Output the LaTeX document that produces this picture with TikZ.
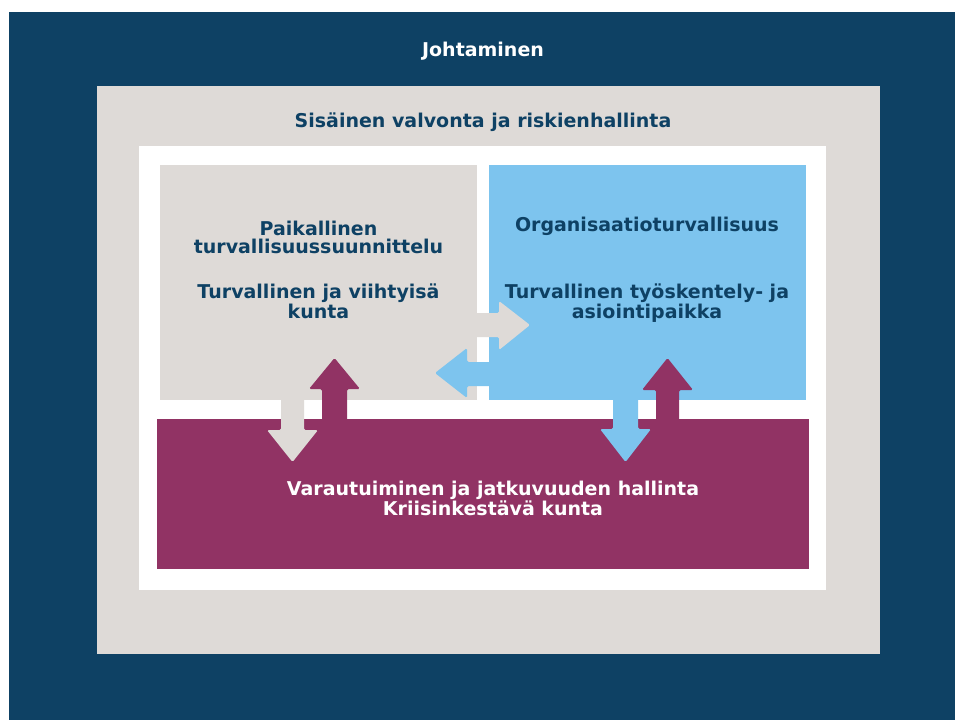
\documentclass[tikz,border=0pt]{standalone}
\usepackage{fontspec}
\setmainfont{DejaVu Sans}
\definecolor{navy}{RGB}{14,65,100}
\definecolor{warmgray}{RGB}{222,218,215}
\definecolor{skyblue}{RGB}{125,196,238}
\definecolor{plum}{RGB}{145,51,100}
\tikzset{
  box/.style={draw=none, inner sep=0pt, outer sep=0pt},
  lbl/.style={inner sep=0pt, anchor=base, font=\fontsize{19}{21}\selectfont\bfseries, text=navy},
  wlbl/.style={lbl, text=white},
  arrowshape/.style={rounded corners=1.5pt, draw=none}
}
\begin{document}
\begin{tikzpicture}[x=1pt, y=-1pt]
\useasboundingbox (0,0) rectangle (955,720);
\fill[white] (0,0) rectangle (955,720);
% frames
\fill[navy] (9,12) rectangle (955,720);
\node[box, fill=warmgray, minimum width=783pt, minimum height=568pt, anchor=north west] (ctrl) at (97,86) {};
\node[box, fill=white, minimum width=687pt, minimum height=444pt, anchor=north west] (inner) at (139,146) {};
\node[box, fill=warmgray, minimum width=317pt, minimum height=235pt, anchor=north west] (local) at (160,165) {};
\node[box, fill=skyblue, minimum width=317pt, minimum height=235pt, anchor=north west] (org) at (489,165) {};
\node[box, fill=plum, minimum width=652pt, minimum height=150pt, anchor=north west] (prep) at (157,419) {};
% arrows
\fill[warmgray, arrowshape] (281,390) -- (281,430) -- (267,430) -- (292.5,462) -- (318,430) -- (304,430) -- (304,390) -- cycle;
\fill[plum, arrowshape] (322,430) -- (322,389) -- (309,389) -- (334.5,358) -- (360,389) -- (347,389) -- (347,430) -- cycle;
\fill[warmgray, arrowshape] (470,313) -- (499,313) -- (499,301) -- (530,325) -- (499,350) -- (499,337) -- (470,337) -- cycle;
\fill[skyblue, arrowshape] (496,362) -- (467,362) -- (467,348) -- (435,373) -- (467,398) -- (467,386) -- (496,386) -- cycle;
\fill[skyblue, arrowshape] (613,390) -- (613,429) -- (600,429) -- (625.5,462) -- (651,429) -- (638,429) -- (638,390) -- cycle;
\fill[plum, arrowshape] (656,430) -- (656,390) -- (642,390) -- (667.5,358) -- (693,390) -- (679,390) -- (679,430) -- cycle;
% labels
\node[wlbl] (t1) at (483,56) {Johtaminen};
\node[lbl] (t2) at (483,127) {Sisäinen valvonta ja riskienhallinta};
\node[lbl, align=center, font=\fontsize{19}{18}\selectfont\bfseries] (t3) at (318.5,253) {Paikallinen\\turvallisuussuunnittelu};
\node[lbl] (t5) at (318.5,298) {Turvallinen ja viihtyisä};
\node[lbl] (t6) at (318.5,318) {kunta};
\node[lbl] (t7) at (647,231) {Organisaatioturvallisuus};
\node[lbl] (t8) at (647,298) {Turvallinen työskentely- ja};
\node[lbl] (t9) at (647,318) {asiointipaikka};
\node[wlbl] (t10) at (493,495) {Varautuiminen ja jatkuvuuden hallinta};
\node[wlbl] (t11) at (493,515) {Kriisinkestävä kunta};
\end{tikzpicture}
\end{document}
